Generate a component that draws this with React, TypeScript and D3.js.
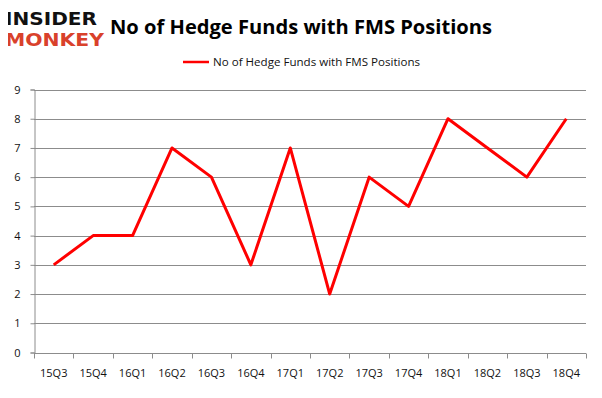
import { useEffect, useRef } from 'react'
import * as d3 from 'd3'

const quarters = ['15Q3', '15Q4', '16Q1', '16Q2', '16Q3', '16Q4', '17Q1', '17Q2', '17Q3', '17Q4', '18Q1', '18Q2', '18Q3', '18Q4']
const funds = [3, 4, 4, 7, 6, 3, 7, 2, 6, 5, 8, 7, 6, 8]
const yTicks = [0, 1, 2, 3, 4, 5, 6, 7, 8, 9]
const seriesName = 'No of Hedge Funds with FMS Positions'
const title = 'No of Hedge Funds with FMS Positions'

const App = () => {
  const chart = useRef<SVGSVGElement>(null)

  useEffect(() => {
    const svg = d3.select(chart.current)
    svg.selectAll('*').remove()
    const font = 'Open Sans, DejaVu Sans, sans-serif'

    // frame
    svg.append('rect')
      .attr('x', 1.5).attr('y', 1.5)
      .attr('width', 596).attr('height', 394)
      .attr('fill', '#fff').attr('stroke', '#8c8c8c')

    // logo
    svg.append('text')
      .attr('x', 5).attr('y', 25)
      .attr('textLength', 92).attr('lengthAdjust', 'spacingAndGlyphs')
      .attr('font-family', 'DejaVu Sans, sans-serif').attr('font-weight', 'bold')
      .attr('font-size', 17).attr('fill', '#111')
      .text('INSIDER')
    svg.append('text')
      .attr('x', 5).attr('y', 46)
      .attr('textLength', 99).attr('lengthAdjust', 'spacingAndGlyphs')
      .attr('font-family', 'DejaVu Sans, sans-serif').attr('font-weight', 'bold')
      .attr('font-size', 17).attr('fill', '#d9412b')
      .text('MONKEY')

    // title
    svg.append('text')
      .attr('x', 110).attr('y', 34)
      .attr('textLength', 382).attr('lengthAdjust', 'spacingAndGlyphs')
      .attr('font-family', font).attr('font-weight', 'bold')
      .attr('font-size', 20).attr('fill', '#000')
      .text(title)

    // legend
    svg.append('line')
      .attr('x1', 183).attr('x2', 209).attr('y1', 62).attr('y2', 62)
      .attr('stroke', '#ff0000').attr('stroke-width', 2.5)
    svg.append('text')
      .attr('x', 213).attr('y', 66)
      .attr('textLength', 207).attr('lengthAdjust', 'spacingAndGlyphs')
      .attr('font-family', font).attr('font-size', 11).attr('fill', '#111')
      .text(seriesName)

    const left = 34, right = 586, top = 89.5, bottom = 352.5

    const x = d3.scaleBand().domain(quarters).range([left, right])
    const y = d3.scaleLinear().domain([0, 9]).range([bottom, top])

    // gridlines
    svg.append('g')
      .selectAll('line')
      .data(yTicks)
      .enter().append('line')
        .attr('x1', left).attr('x2', right)
        .attr('y1', d => Math.round(y(d)) + 0.5).attr('y2', d => Math.round(y(d)) + 0.5)
        .attr('stroke', '#8c8c8c').attr('stroke-width', 1)

    // y axis
    const yAxis = svg.append('g')
      .attr('transform', `translate(${left + 0.5},0)`)
      .call(d3.axisLeft(y).tickValues(yTicks).tickSize(4).tickPadding(10))
    yAxis.select('.domain').attr('stroke', '#8c8c8c')
    yAxis.selectAll('.tick line').attr('stroke', '#8c8c8c')
    yAxis.selectAll('.tick text')
      .attr('font-family', font).attr('font-size', 11).attr('fill', '#111')

    // x axis
    const xAxis = svg.append('g')
      .attr('transform', `translate(0,${Math.round(bottom) + 0.5})`)
      .call(d3.axisBottom(x).tickSize(0).tickPadding(16))
    xAxis.select('.domain').remove()
    xAxis.selectAll('.tick text')
      .attr('font-family', font).attr('font-size', 11).attr('fill', '#111')
    xAxis.selectAll('.xtick')
      .data(d3.range(quarters.length + 1))
      .enter().append('line')
        .attr('class', 'xtick')
        .attr('x1', d => Math.round(left + d * x.step()) + 0.5)
        .attr('x2', d => Math.round(left + d * x.step()) + 0.5)
        .attr('y1', 0).attr('y2', 5)
        .attr('stroke', '#8c8c8c')
    xAxis.append('line')
      .attr('x1', left).attr('x2', right).attr('y1', 0).attr('y2', 0)
      .attr('stroke', '#8c8c8c')

    // series line
    const line = d3.line<number>()
      .x((_, i) => (x(quarters[i]) as number) + x.bandwidth() / 2)
      .y(d => y(d))
    svg.append('path')
      .datum(funds)
      .attr('d', line)
      .attr('fill', 'none')
      .attr('stroke', '#ff0000')
      .attr('stroke-width', 3)
      .attr('stroke-linejoin', 'round')
  }, [])

  return (
    <svg ref={chart} width={602} height={398} style={{ display: 'block', margin: '-8px' }} />
  )
}

export default App
